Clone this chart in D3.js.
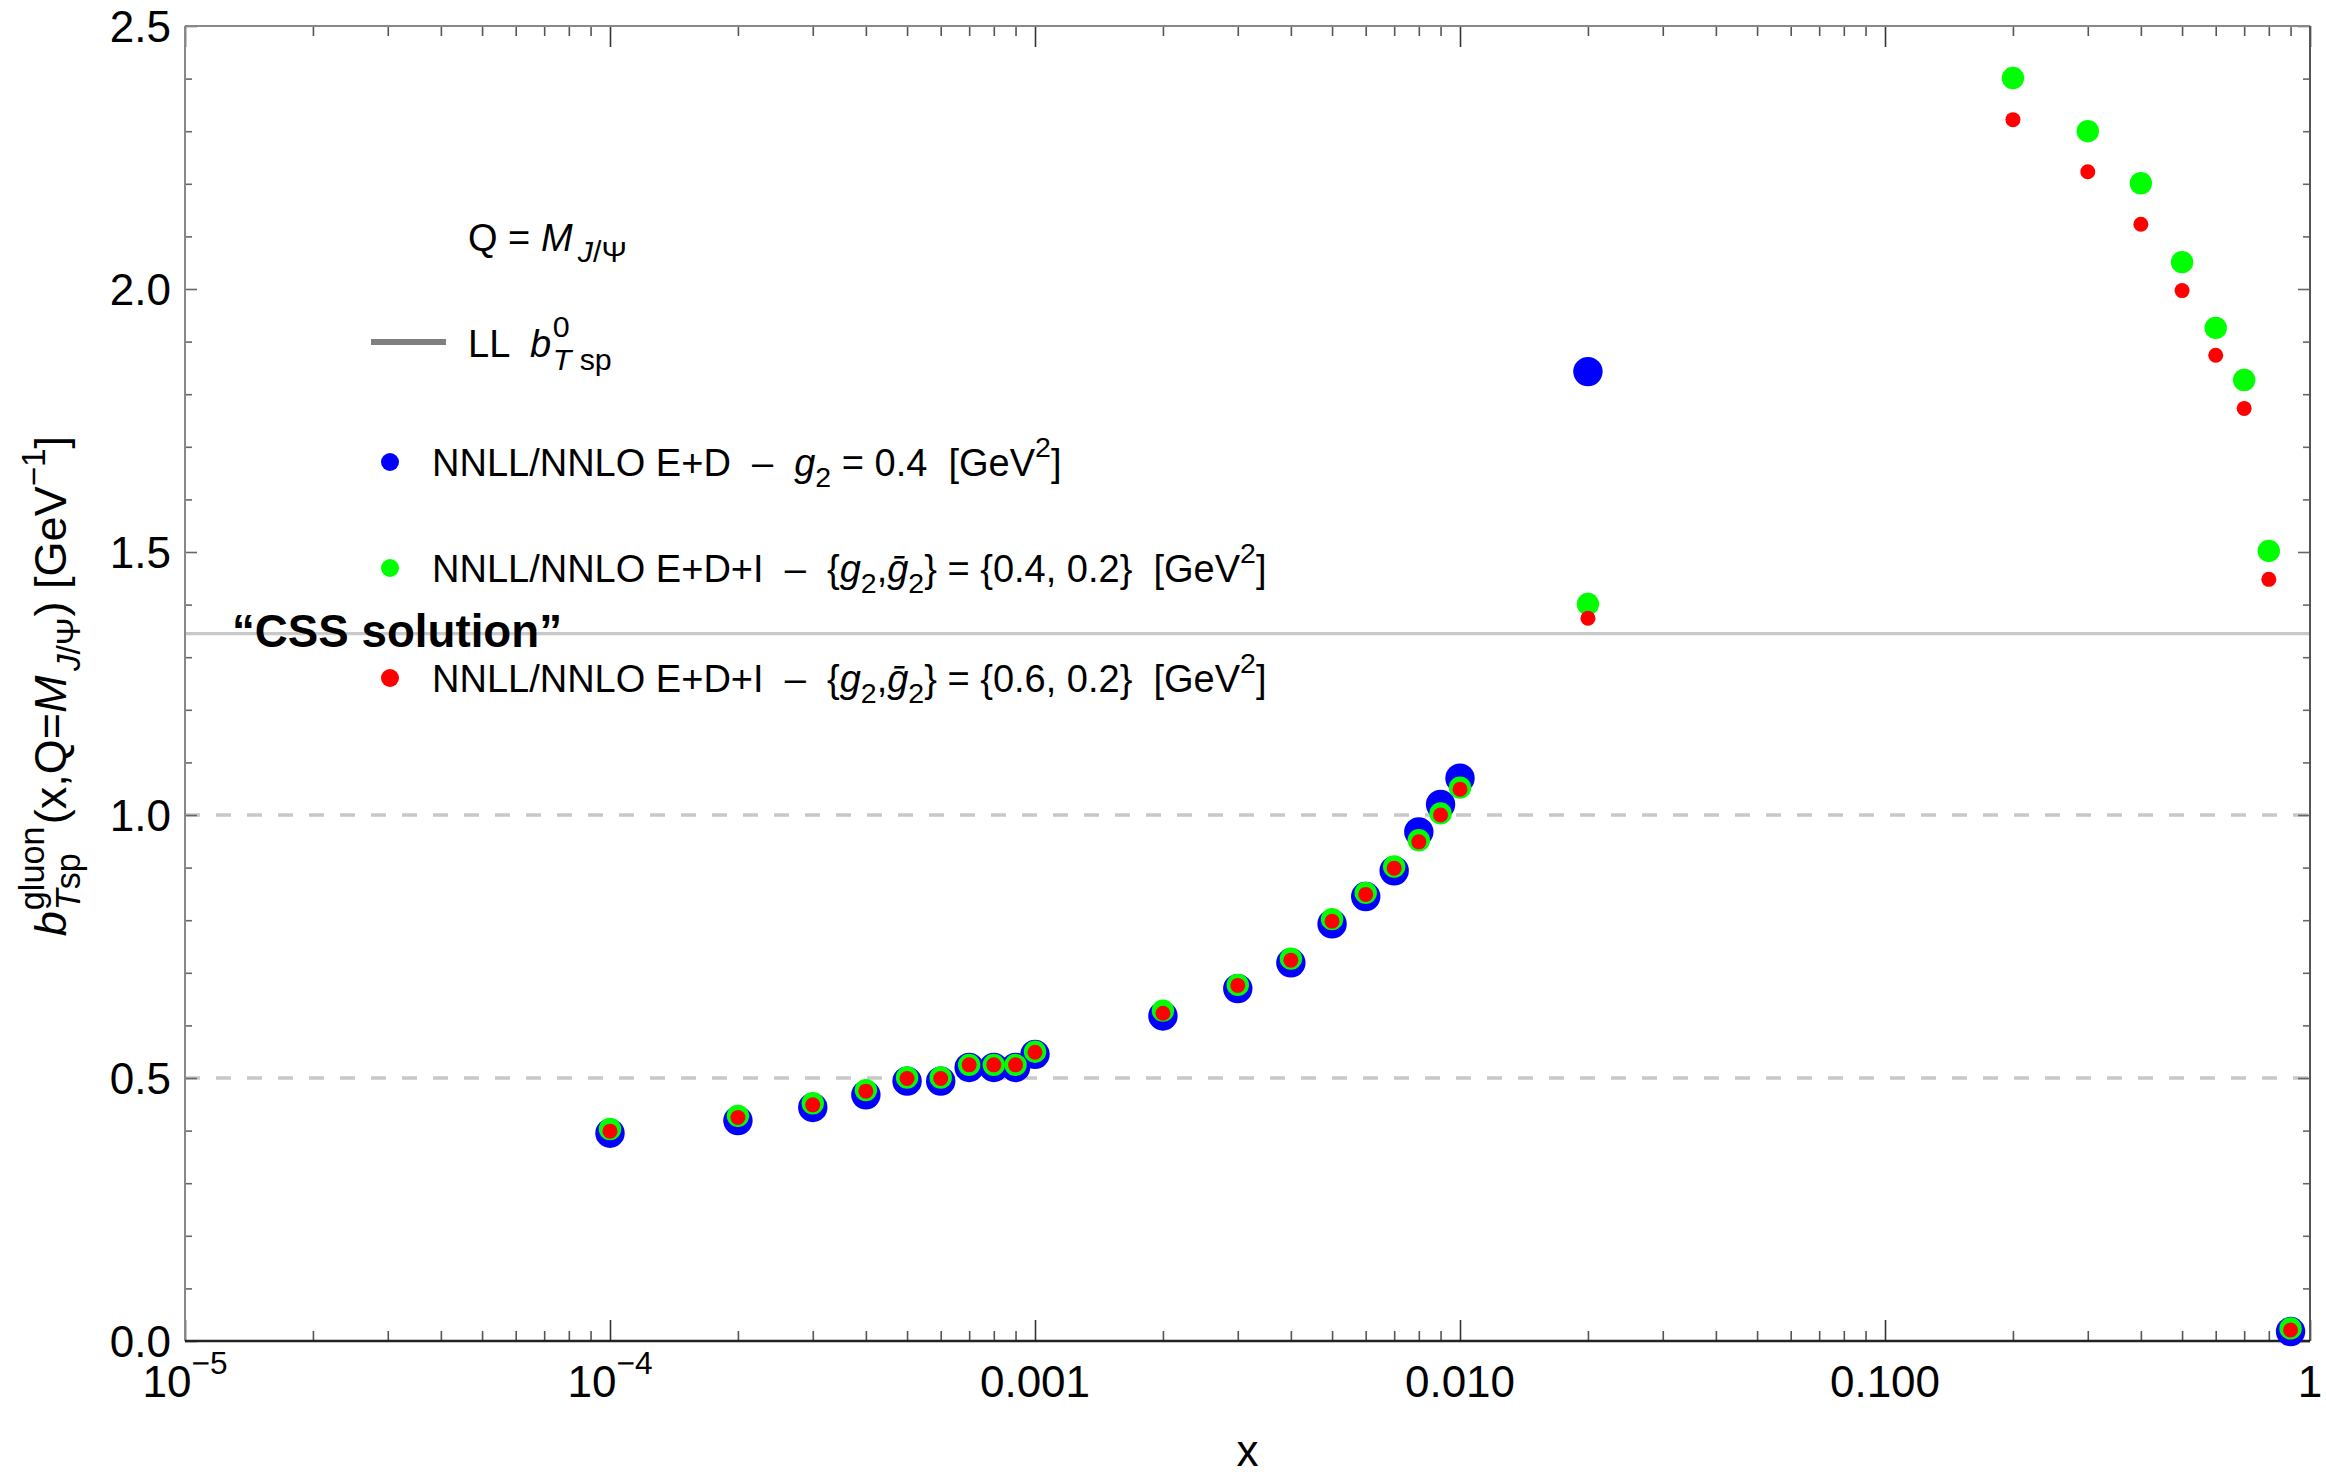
<!DOCTYPE html>
<html>
<head>
<meta charset="utf-8">
<script src="https://cdn.jsdelivr.net/npm/d3@7"></script>
<style>
  html, body { margin: 0; padding: 0; background: #fff; }
  svg text { font-family: "Liberation Sans", Arial, sans-serif; white-space: pre; }
</style>
</head>
<body>
<svg id="chart" width="2326" height="1477"></svg>
<script>
// ---- data -------------------------------------------------------------
// E+D fit, g2 = 0.4 GeV^2
const xED = [0.0001, 0.0002, 0.0003, 0.0004, 0.0005, 0.0006, 0.0007, 0.0008, 0.0009,
             0.001, 0.002, 0.003, 0.004, 0.005, 0.006, 0.007, 0.008, 0.009, 0.01,
             0.02, 0.9];
const yED = [0.395, 0.419, 0.444, 0.468, 0.494, 0.494, 0.520, 0.520, 0.520,
             0.545, 0.618, 0.670, 0.719, 0.793, 0.845, 0.894, 0.968, 1.020, 1.070,
             1.843, 0.018];

// E+D+I fits
const xEDI = [0.0001, 0.0002, 0.0003, 0.0004, 0.0005, 0.0006, 0.0007, 0.0008, 0.0009,
              0.001, 0.002, 0.003, 0.004, 0.005, 0.006, 0.007, 0.008, 0.009, 0.01,
              0.02, 0.2, 0.3, 0.4, 0.5, 0.6, 0.7, 0.8, 0.9];
// {g2, gbar2} = {0.4, 0.2}
const yEDI04 = [0.403, 0.428, 0.452, 0.477, 0.501, 0.501, 0.525, 0.525, 0.525,
                0.550, 0.628, 0.677, 0.727, 0.802, 0.852, 0.902, 0.952, 1.003, 1.052,
                1.401, 2.401, 2.300, 2.201, 2.051, 1.926, 1.827, 1.502, 0.024];
// {g2, gbar2} = {0.6, 0.2}
const yEDI06 = [0.399, 0.425, 0.449, 0.475, 0.499, 0.499, 0.525, 0.525, 0.525,
                0.549, 0.623, 0.676, 0.724, 0.798, 0.849, 0.899, 0.949, 1.000, 1.049,
                1.374, 2.322, 2.223, 2.123, 1.997, 1.874, 1.773, 1.448, 0.021];

// LL reference value b_Tsp^0
const llValue = 1.345;
const dashedLevels = [0.5, 1.0];

const xMajorTicks = [1e-5, 1e-4, 1e-3, 1e-2, 1e-1, 1];
const xTickLabels = [["10", "−5"], ["10", "−4"], ["0.001"], ["0.010"], ["0.100"], ["1"]];
const yMajorTicks = [0, 0.5, 1.0, 1.5, 2.0, 2.5];
const yTickLabels = ["0.0", "0.5", "1.0", "1.5", "2.0", "2.5"];

// ---- setup ------------------------------------------------------------
const svg = d3.select("#chart");
svg.append("rect").attr("width", 2326).attr("height", 1477).attr("fill", "#fff");

const L = 185, R = 2310, T = 26, B = 1341;
const x = d3.scaleLog().domain([1e-5, 1]).range([L, R]);
const y = d3.scaleLinear().domain([0, 2.5]).range([B, T]);

const xMinorTicks = [];
for (let e = -5; e < 0; e++) for (let k = 2; k <= 9; k++) xMinorTicks.push(k * Math.pow(10, e));
const yMinorTicks = d3.range(0, 26).map(i => i / 10).filter(v => Math.abs(v * 2 - Math.round(v * 2)) > 1e-6);

// Rich text helper: lays out pieces (sub/superscripts, italics) left to right.
function rich(parent, parts, size) {
  const g = parent.append("g");
  let cx = 0, prevStart = 0;
  parts.forEach(p => {
    const fs = size * (p.sc || 1);
    const startX = p.stack ? prevStart : cx + (p.dx || 0) * size;
    const t = g.append("text")
      .attr("x", startX)
      .attr("y", (p.dy || 0) * size)
      .attr("font-size", fs)
      .attr("font-weight", p.bold ? "bold" : "normal");
    const segs = p.segs || [{ t: p.t, it: p.it }];
    segs.forEach(s => {
      t.append("tspan").attr("font-style", s.it ? "italic" : "normal").text(s.t);
    });
    const w = t.node().getComputedTextLength();
    if (p.stack) cx = Math.max(cx, startX + w);
    else { prevStart = startX; cx = startX + w; }
  });
  return { g, width: cx };
}

// ---- reference lines --------------------------------------------------
svg.append("g").selectAll("line").data(dashedLevels).join("line")
  .attr("x1", L).attr("x2", R)
  .attr("y1", d => y(d)).attr("y2", d => y(d))
  .attr("stroke", "#c8c8c8").attr("stroke-width", 3.3)
  .attr("stroke-dasharray", "15,16");

svg.append("line")
  .attr("x1", L).attr("x2", R)
  .attr("y1", y(llValue)).attr("y2", y(llValue))
  .attr("stroke", "#c8c8c8").attr("stroke-width", 3.3);

// ---- frame and ticks --------------------------------------------------
function styleTicks(g, color) {
  g.select(".domain").remove();
  g.selectAll(".tick line").attr("stroke", color).attr("stroke-width", 1.6);
  g.selectAll(".tick text").remove();
}
svg.append("g").attr("transform", `translate(0,${B})`)
  .call(d3.axisBottom(x).tickValues(xMinorTicks).tickSize(-10).tickFormat(""))
  .call(g => styleTicks(g, "#555"));
svg.append("g").attr("transform", `translate(0,${B})`)
  .call(d3.axisBottom(x).tickValues(xMajorTicks).tickSize(-21).tickFormat(""))
  .call(g => styleTicks(g, "#333"));
svg.append("g").attr("transform", `translate(0,${T})`)
  .call(d3.axisTop(x).tickValues(xMinorTicks).tickSize(-10).tickFormat(""))
  .call(g => styleTicks(g, "#555"));
svg.append("g").attr("transform", `translate(0,${T})`)
  .call(d3.axisTop(x).tickValues(xMajorTicks).tickSize(-21).tickFormat(""))
  .call(g => styleTicks(g, "#333"));
svg.append("g").attr("transform", `translate(${L},0)`)
  .call(d3.axisLeft(y).tickValues(yMinorTicks).tickSize(-7).tickFormat(""))
  .call(g => styleTicks(g, "#666"));
svg.append("g").attr("transform", `translate(${L},0)`)
  .call(d3.axisLeft(y).tickValues(yMajorTicks).tickSize(-12).tickFormat(""))
  .call(g => styleTicks(g, "#666"));
svg.append("g").attr("transform", `translate(${R},0)`)
  .call(d3.axisRight(y).tickValues(yMinorTicks).tickSize(-7).tickFormat(""))
  .call(g => styleTicks(g, "#666"));
svg.append("g").attr("transform", `translate(${R},0)`)
  .call(d3.axisRight(y).tickValues(yMajorTicks).tickSize(-12).tickFormat(""))
  .call(g => styleTicks(g, "#666"));

svg.append("line").attr("x1", L).attr("x2", R).attr("y1", T).attr("y2", T)
  .attr("stroke", "#888").attr("stroke-width", 2);
svg.append("line").attr("x1", L).attr("x2", L).attr("y1", T).attr("y2", B)
  .attr("stroke", "#888").attr("stroke-width", 2);
svg.append("line").attr("x1", R).attr("x2", R).attr("y1", T).attr("y2", B)
  .attr("stroke", "#555").attr("stroke-width", 2);
svg.append("line").attr("x1", L).attr("x2", R).attr("y1", B).attr("y2", B)
  .attr("stroke", "#222").attr("stroke-width", 2.5);

// ---- tick labels ------------------------------------------------------
const tickSize = 44;
svg.append("g").selectAll("text").data(yMajorTicks).join("text")
  .attr("x", L - 14).attr("y", d => y(d))
  .attr("dy", "0.36em")
  .attr("text-anchor", "end")
  .attr("font-size", tickSize)
  .text((d, i) => yTickLabels[i]);

xMajorTicks.forEach((v, i) => {
  const lab = xTickLabels[i];
  const parts = [{ t: lab[0] }];
  if (lab[1]) parts.push({ t: lab[1], sc: 0.72, dy: -0.52 });
  const r = rich(svg, parts, tickSize);
  r.g.attr("transform", `translate(${x(v) - r.width / 2},1397)`);
});

// axis title x
svg.append("text").attr("x", x(Math.sqrt(1e-5))).attr("y", 1466)
  .attr("text-anchor", "middle").attr("font-size", 44).text("x");

// y axis title
{
  const parts = [
    { t: "b", it: true },
    { t: "gluon", sc: 0.76, dy: -0.5, dx: 0.02 },
    { segs: [{ t: "T", it: true }, { t: "sp" }], sc: 0.76, dy: 0.3, stack: true },
    { t: "(x,Q=", dx: 0.05 },
    { t: "M", it: true },
    { segs: [{ t: "J", it: true }, { t: "/Ψ" }], sc: 0.74, dy: 0.3, dx: 0.1 },
    { t: ") [GeV", dx: 0.02 },
    { t: "−1", sc: 0.74, dy: -0.47 },
    { t: "]" }
  ];
  const r = rich(svg, parts, 45);
  r.g.attr("transform", `translate(66,${686 + r.width / 2}) rotate(-90)`);
}

// ---- data points ------------------------------------------------------
const pts = svg.append("g");
pts.selectAll("circle.ed").data(xED.map((v, i) => [v, yED[i]])).join("circle")
  .attr("class", "ed").attr("cx", d => x(d[0])).attr("cy", d => y(d[1]))
  .attr("r", 14.7).attr("fill", "#0000ff");
pts.selectAll("circle.edi04").data(xEDI.map((v, i) => [v, yEDI04[i]])).join("circle")
  .attr("class", "edi04").attr("cx", d => x(d[0])).attr("cy", d => y(d[1]))
  .attr("r", 11.2).attr("fill", "#00ff00");
pts.selectAll("circle.edi06").data(xEDI.map((v, i) => [v, yEDI06[i]])).join("circle")
  .attr("class", "edi06").attr("cx", d => x(d[0])).attr("cy", d => y(d[1]))
  .attr("r", 7.5).attr("fill", "#ff0000");

// ---- legend -----------------------------------------------------------
const legSize = 38;
{
  const r = rich(svg, [
    { t: "Q = " }, { t: "M", it: true },
    { segs: [{ t: "J", it: true }, { t: "/Ψ" }], sc: 0.8, dy: 0.3, dx: 0.14 }
  ], legSize);
  r.g.attr("transform", "translate(468,251)");
}
svg.append("line").attr("x1", 371).attr("x2", 446).attr("y1", 342).attr("y2", 342)
  .attr("stroke", "#808080").attr("stroke-width", 6);
{
  const r = rich(svg, [
    { t: "LL  " }, { t: "b", it: true },
    { t: "0", sc: 0.8, dy: -0.52, dx: 0.04 },
    { segs: [{ t: "T", it: true }, { t: " sp" }], sc: 0.8, dy: 0.34, stack: true }
  ], legSize);
  r.g.attr("transform", "translate(468,357)");
}

const legendEntries = [
  { color: "#0000ff", cy: 462, parts: [
    { t: "NNLL/NNLO E+D  –  " }, { t: "g", it: true }, { t: "2", sc: 0.75, dy: 0.3 },
    { t: " = 0.4  [GeV" }, { t: "2", sc: 0.75, dy: -0.5 }, { t: "]" }] },
  { color: "#00ff00", cy: 568, parts: [
    { t: "NNLL/NNLO E+D+I  –  {" }, { t: "g", it: true }, { t: "2", sc: 0.75, dy: 0.3 },
    { t: "," }, { t: "ḡ", it: true }, { t: "2", sc: 0.75, dy: 0.3 },
    { t: "} = {0.4, 0.2}  [GeV" }, { t: "2", sc: 0.75, dy: -0.5 }, { t: "]" }] },
  { color: "#ff0000", cy: 678, parts: [
    { t: "NNLL/NNLO E+D+I  –  {" }, { t: "g", it: true }, { t: "2", sc: 0.75, dy: 0.3 },
    { t: "," }, { t: "ḡ", it: true }, { t: "2", sc: 0.75, dy: 0.3 },
    { t: "} = {0.6, 0.2}  [GeV" }, { t: "2", sc: 0.75, dy: -0.5 }, { t: "]" }] }
];
legendEntries.forEach(e => {
  svg.append("circle").attr("cx", 390).attr("cy", e.cy).attr("r", 9).attr("fill", e.color);
  const r = rich(svg, e.parts, legSize);
  r.g.attr("transform", `translate(432,${e.cy + 14})`);
});

// ---- annotation -------------------------------------------------------
svg.append("text")
  .attr("x", 232).attr("y", 647)
  .attr("font-family", "'DejaVu Sans', sans-serif")
  .attr("font-weight", "bold")
  .attr("font-size", 47)
  .attr("textLength", 330).attr("lengthAdjust", "spacingAndGlyphs")
  .text("“CSS solution”");
</script>
</body>
</html>
